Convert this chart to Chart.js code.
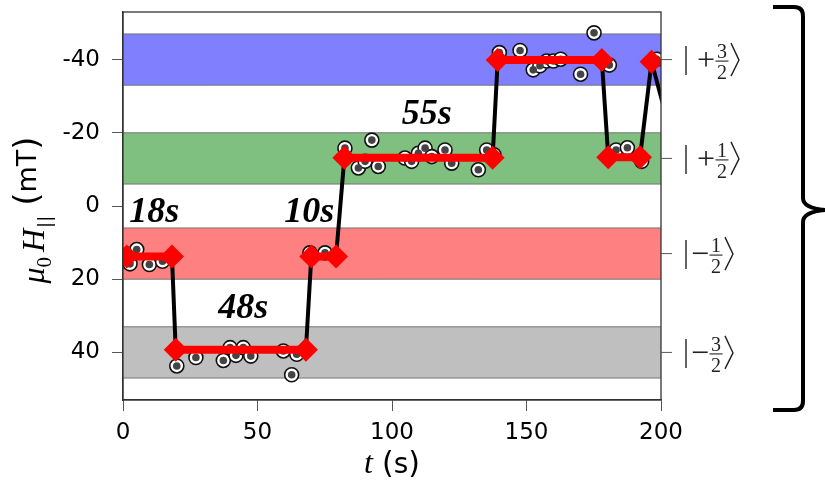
<!DOCTYPE html>
<html>
<head>
<meta charset="utf-8">
<script src="https://cdn.jsdelivr.net/npm/chart.js@4"></script>
<style>
  html, body { margin: 0; padding: 0; background: #fff; }
  canvas { display: block; }
</style>
</head>
<body>
<canvas id="chart" width="825" height="486"></canvas>
<script>
// axis ticks (y axis runs reversed, negative field at the top)
const xTicks = [0, 50, 100, 150, 200];
const yTicks = [-40, -20, 0, 20, 40];

// spin state bands (mT)
const stateLabels = ['+3/2', '+1/2', '-1/2', '-3/2'];
const stateCenter = [-40, -13, 13, 40];
const bandLow = [-47, -20, 6, 33];
const bandHigh = [-33, -6, 20, 47];

// measured field values
const measT = [2.6, 5.1, 9.8, 14.7, 20, 27.1, 37.3, 39.8, 42, 44.7, 47.5, 59.6, 62.7, 64.6,
  69.5, 75.1, 82.5, 87.5, 90, 92.5, 94.9, 104.8, 107.3, 109.8, 112.3, 114.8, 119.7, 122.2,
  132.1, 135.2, 137.9, 139.9, 147.6, 152.5, 155, 157.5, 160, 162.7, 170.1, 175.1, 180.8,
  183.3, 187.5, 192.8, 198.4];
const measH = [15.8, 11.9, 16.0, 15.1, 43.7, 41.4, 42.2, 38.7, 40.8, 38.7, 41.0, 39.6, 46.1, 40.5,
  12.8, 12.8, -15.8, -10.4, -12.2, -18.0, -10.8, -13.1, -12.2, -14.4, -15.8, -13.5, -15.3, -11.7,
  -9.9, -15.3, -14.0, -41.9, -42.5, -37.2, -38.3, -39.6, -39.6, -40.1, -36.0, -47.3, -38.5,
  -15.3, -15.9, -12.2, -40.1];

// fitted dwell steps
const stepT = [1.4, 18.2, 19.6, 68, 70, 79.2, 82.3, 137.4, 139.3, 178, 180.4, 192.2, 196.5, 206];
const stepH = [13.8, 13.8, 39.3, 39.3, 13.8, 13.8, -13.2, -13.2, -39.9, -39.9, -13.3, -13.3, -39.4, -13.3];

// dwell time labels
const dwellText = ['18s', '10s', '55s', '48s'];

const meas = measT.map((t, i) => ({ x: t, y: measH[i] }));
const steps = stepT.map((t, i) => ({ x: t, y: stepH[i] }));

const bandFill = ['rgb(128,128,255)', 'rgb(127,191,127)', 'rgb(255,128,128)', 'rgb(191,191,191)'];
const dwellAt = [[2.3, 4.5], [59.9, 4.5], [103.6, -22.5], [35.4, 30.6]];

function drawRuns(ctx, runs, cx, base) {
  let w = 0;
  runs.forEach(r => { ctx.font = r.f; r.w = r.t ? ctx.measureText(r.t).width : 0; w += r.w + (r.gap || 0); });
  let x = cx - w / 2;
  ctx.textAlign = 'left';
  ctx.textBaseline = 'alphabetic';
  runs.forEach(r => {
    x += r.gap || 0;
    if (r.t) { ctx.font = r.f; ctx.fillText(r.t, x, base + (r.dy || 0)); }
    x += r.w;
  });
}

function drawKet(ctx, x0, cy, label) {
  const plus = label[0] === '+';
  const [num, den] = label.slice(1).split('/');
  ctx.strokeStyle = '#222';
  ctx.fillStyle = '#222';
  ctx.lineWidth = 1.4;
  ctx.beginPath();
  ctx.moveTo(x0, cy - 15); ctx.lineTo(x0, cy + 14);
  ctx.stroke();
  ctx.font = '32px "Liberation Serif"';
  ctx.textAlign = 'center';
  ctx.textBaseline = 'middle';
  ctx.fillText(plus ? '+' : '\u2212', x0 + (plus ? 20 : 14), cy + 1);
  const fx = x0 + (plus ? 36 : 30);
  ctx.font = '20px "Liberation Serif"';
  ctx.textBaseline = 'alphabetic';
  ctx.fillText(num, fx, cy - 3);
  ctx.fillText(den, fx, cy + 18);
  ctx.lineWidth = 1.1;
  ctx.beginPath();
  ctx.moveTo(fx - 6.5, cy); ctx.lineTo(fx + 6.5, cy);
  ctx.stroke();
  const bx = fx + 9;
  ctx.lineWidth = 1.4;
  ctx.beginPath();
  ctx.moveTo(bx, cy - 18); ctx.lineTo(bx + 8, cy - 1); ctx.lineTo(bx, cy + 15);
  ctx.stroke();
}

const decor = {
  id: 'decor',
  beforeDatasetsDraw(chart) {
    const { ctx, chartArea: a, scales: { y } } = chart;
    ctx.save();
    bandLow.forEach((lo, i) => {
      const y1 = y.getPixelForValue(lo), y2 = y.getPixelForValue(bandHigh[i]);
      ctx.fillStyle = bandFill[i];
      ctx.fillRect(a.left, Math.min(y1, y2), a.right - a.left, Math.abs(y2 - y1));
      ctx.strokeStyle = '#777';
      ctx.lineWidth = 1;
      ctx.beginPath();
      ctx.moveTo(a.left, y1); ctx.lineTo(a.right, y1);
      ctx.moveTo(a.left, y2); ctx.lineTo(a.right, y2);
      ctx.stroke();
    });
    ctx.restore();
  },
  afterDatasetsDraw(chart) {
    const { ctx, scales: { x, y } } = chart;
    ctx.save();
    ctx.fillStyle = '#000';
    ctx.font = 'bold italic 36px "Liberation Serif"';
    ctx.textAlign = 'left';
    ctx.textBaseline = 'alphabetic';
    dwellText.forEach((s, i) => {
      ctx.fillText(s, x.getPixelForValue(dwellAt[i][0]), y.getPixelForValue(dwellAt[i][1]));
    });
    ctx.restore();
  },
  afterDraw(chart) {
    const { ctx, chartArea: a, scales: { y } } = chart;
    ctx.save();
    // frame
    ctx.strokeStyle = '#333';
    ctx.lineWidth = 1.3;
    ctx.strokeRect(a.left, a.top, a.right - a.left, a.bottom - a.top);
    // state ticks + kets on the right
    stateCenter.forEach((v, i) => {
      const py = y.getPixelForValue(v);
      ctx.strokeStyle = '#555';
      ctx.lineWidth = 1;
      ctx.beginPath();
      ctx.moveTo(a.right, py); ctx.lineTo(a.right + 11, py);
      ctx.stroke();
      drawKet(ctx, 686, py + 1.5, stateLabels[i]);
    });
    // curly brace
    ctx.strokeStyle = '#000';
    ctx.lineWidth = 4;
    ctx.beginPath();
    ctx.moveTo(773, 7);
    ctx.lineTo(794, 7);
    ctx.quadraticCurveTo(803, 7, 803, 16);
    ctx.lineTo(803, 198);
    ctx.quadraticCurveTo(803, 208, 825, 210);
    ctx.quadraticCurveTo(803, 212, 803, 222);
    ctx.lineTo(803, 401);
    ctx.quadraticCurveTo(803, 410, 794, 410);
    ctx.lineTo(773, 410);
    ctx.stroke();
    // axis titles
    ctx.fillStyle = '#000';
    drawRuns(ctx, [
      { t: 't', f: 'italic 32px "Liberation Serif"' },
      { t: '(', f: '30px "DejaVu Sans"', gap: 9 },
      { t: 's', f: '28px "DejaVu Sans"' },
      { t: ')', f: '30px "DejaVu Sans"' }
    ], (a.left + a.right) / 2, 473);
    ctx.translate(44, 210);
    ctx.rotate(-Math.PI / 2);
    drawRuns(ctx, [
      { t: '\u03bc', f: 'italic 32px "Liberation Serif"' },
      { t: '0', f: '21px "Liberation Serif"', dy: 7 },
      { t: 'H', f: 'italic 32px "Liberation Serif"', gap: 5 },
      { t: '||', f: '18px "DejaVu Sans"', dy: 7, gap: 1 },
      { t: '(', f: '34px "DejaVu Sans"', gap: 10, dy: -6 },
      { t: 'mT', f: '27px "DejaVu Sans"', dy: -8 },
      { t: ')', f: '34px "DejaVu Sans"', dy: -6 }
    ], 0, 0);
    ctx.restore();
  }
};

new Chart(document.getElementById('chart'), {
  type: 'scatter',
  data: {
    datasets: [
      {
        label: 'steps',
        data: steps,
        showLine: true,
        borderWidth: 8,
        segment: {
          borderColor: c => c.p0.parsed.y === c.p1.parsed.y ? '#ff0000' : 'rgba(0,0,0,0)'
        },
        pointStyle: 'rectRot',
        pointRadius: 12,
        pointBorderWidth: 0,
        pointBackgroundColor: '#ff0000',
        order: 1
      },
      {
        label: 'jumps',
        data: steps,
        showLine: true,
        borderColor: '#000',
        borderWidth: 4,
        pointRadius: 0,
        order: 2
      },
      {
        label: 'centres',
        data: meas,
        pointRadius: 3.8,
        pointBorderWidth: 0,
        pointBackgroundColor: '#444',
        order: 3
      },
      {
        label: 'measured',
        data: meas,
        pointRadius: 7,
        pointBorderWidth: 1.6,
        pointBorderColor: '#111',
        pointBackgroundColor: '#fff',
        order: 4
      }
    ]
  },
  options: {
    responsive: false,
    animation: false,
    events: [],
    devicePixelRatio: 1,
    layout: { padding: { top: 9, right: 164, left: 0, bottom: 0 } },
    plugins: { legend: { display: false }, tooltip: { enabled: false } },
    scales: {
      x: {
        type: 'linear',
        min: 0,
        max: 200,
        afterBuildTicks: s => { s.ticks = xTicks.map(v => ({ value: v })); },
        afterFit: s => { s.height = 86; s.paddingLeft = 0; s.paddingRight = 0; },
        ticks: { font: { size: 23, family: 'DejaVu Sans' }, color: '#000', padding: 8, maxRotation: 0 },
        grid: { drawOnChartArea: false, tickLength: 11, color: '#555' },
        border: { color: '#333', width: 1.3 }
      },
      y: {
        type: 'linear',
        reverse: true,
        min: -53,
        max: 53,
        afterBuildTicks: s => { s.ticks = yTicks.map(v => ({ value: v })); },
        afterFit: s => { s.width = 123; s.paddingTop = 0; s.paddingBottom = 0; },
        ticks: { font: { size: 23, family: 'DejaVu Sans' }, color: '#000', padding: 12 },
        grid: { drawOnChartArea: false, tickLength: 11, color: '#555' },
        border: { color: '#333', width: 1.3 }
      }
    }
  },
  plugins: [decor]
});
</script>
</body>
</html>
